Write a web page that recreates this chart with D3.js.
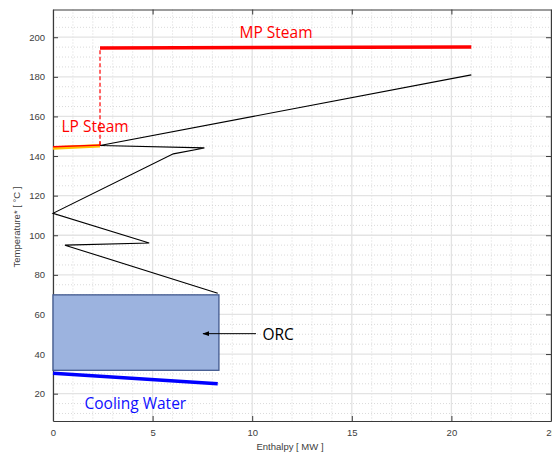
<!DOCTYPE html>
<html><head><meta charset="utf-8">
<script src="https://cdn.jsdelivr.net/npm/d3@7"></script>
<style>body{margin:0;background:#fff}svg{display:block}</style>
</head><body>
<svg id="c" width="552" height="455"></svg>
<script>
const xTicks = [0, 5, 10, 15, 20, 25];
const yTicks = [20, 40, 60, 80, 100, 120, 140, 160, 180, 200];
const compositeH = [21.0, 2.36, 7.6, 6.04, 0, 4.83, 0.6, 8.27];
const compositeT = [181, 145.3, 144.1, 141.1, 111.1, 96.1, 95.0, 70.7];
const mpSteamH = [2.36, 21.0];
const mpSteamT = [194.6, 195.1];
const lpSteamH = [0, 2.36];
const lpSteamRedT = [144.7, 145.5];
const lpSteamOrangeT = [144.0, 145.2];
const coolingH = [0, 8.27];
const coolingT = [30.3, 25.0];
const orcH = [0, 8.33];
const orcT = [31.8, 69.9];

const svg = d3.select("#c");
const L = 53, R = 551, T = 9.5, B = 421;
const x = d3.scaleLinear().domain([0, 25]).range([L, R]);
const y = d3.scaleLinear().domain([6.2, 214]).range([B, T]);

// grid
const g = svg.append("g");
d3.range(0, 25.01, 1).forEach(v => { if (v % 5) g.append("line").attr("x1", x(v)).attr("x2", x(v)).attr("y1", T).attr("y2", B).attr("stroke", "#d0d0d0").attr("stroke-width", 0.8).attr("stroke-dasharray", "1,2"); });
d3.range(10, 214, 5).forEach(v => { if (v % 20) g.append("line").attr("y1", y(v)).attr("y2", y(v)).attr("x1", L).attr("x2", R).attr("stroke", "#d0d0d0").attr("stroke-width", 0.8).attr("stroke-dasharray", "1,2"); });
xTicks.forEach(v => g.append("line").attr("x1", x(v)).attr("x2", x(v)).attr("y1", T).attr("y2", B).attr("stroke", "#e3e3e3").attr("stroke-width", 1.3));
yTicks.forEach(v => g.append("line").attr("y1", y(v)).attr("y2", y(v)).attr("x1", L).attr("x2", R).attr("stroke", "#e3e3e3").attr("stroke-width", 1.3));

// axes
const axB = svg.append("g").attr("transform", `translate(0,${B})`).call(d3.axisBottom(x).tickValues(xTicks).tickSizeInner(-5).tickSizeOuter(0).tickPadding(8));
const axL = svg.append("g").attr("transform", `translate(${L},0)`).call(d3.axisLeft(y).tickValues(yTicks).tickSizeInner(-5).tickSizeOuter(0).tickPadding(8));
const axT = svg.append("g").attr("transform", `translate(0,${T})`).call(d3.axisTop(x).tickValues(xTicks).tickSizeInner(-5).tickSizeOuter(0).tickFormat(""));
const axR = svg.append("g").attr("transform", `translate(${R},0)`).call(d3.axisRight(y).tickValues(yTicks).tickSizeInner(-5).tickSizeOuter(0).tickFormat(""));
[axB, axL, axT, axR].forEach(a => {
  a.select(".domain").attr("stroke", "#3a3a3a").attr("stroke-width", 1.2);
  a.selectAll(".tick line").attr("stroke", "#3a3a3a");
  a.selectAll("text").attr("font-family", "Liberation Sans, Arial, sans-serif").attr("font-size", 9.5).attr("fill", "#404040");
});

// ORC rectangle
svg.append("rect").attr("x", x(orcH[0])).attr("y", y(orcT[1])).attr("width", x(orcH[1]) - x(orcH[0])).attr("height", y(orcT[0]) - y(orcT[1]))
  .attr("fill", "#9cb3df").attr("stroke", "#41598f").attr("stroke-width", 1.3);

const line = d3.line().x(d => x(d[0])).y(d => y(d[1]));
const pts = (H, Tv) => H.map((h, i) => [h, Tv[i]]);

// composite curve
svg.append("path").attr("d", line(pts(compositeH, compositeT))).attr("fill", "none").attr("stroke", "#000").attr("stroke-width", 1.1);

// LP steam
svg.append("path").attr("d", line(pts(lpSteamH, lpSteamOrangeT))).attr("fill", "none").attr("stroke", "#ffc000").attr("stroke-width", 3.5);
svg.append("path").attr("d", line(pts(lpSteamH, lpSteamRedT))).attr("fill", "none").attr("stroke", "#ff0000").attr("stroke-width", 1.3);
// dashed connector
svg.append("line").attr("x1", x(mpSteamH[0])).attr("x2", x(mpSteamH[0])).attr("y1", y(lpSteamRedT[1])).attr("y2", y(mpSteamT[0]))
  .attr("stroke", "#ff0000").attr("stroke-width", 1.2).attr("stroke-dasharray", "4,2.5");
svg.append("line").attr("x1", x(mpSteamH[0])).attr("x2", x(mpSteamH[0])).attr("y1", y(lpSteamRedT[1])).attr("y2", y(lpSteamRedT[1]) - 4)
  .attr("stroke", "#ff0000").attr("stroke-width", 1.2);
// MP steam
svg.append("path").attr("d", line(pts(mpSteamH, mpSteamT))).attr("fill", "none").attr("stroke", "#ff0000").attr("stroke-width", 3.5);
// cooling water
svg.append("path").attr("d", line(pts(coolingH, coolingT))).attr("fill", "none").attr("stroke", "#0000ff").attr("stroke-width", 3.5);

// arrow
svg.append("defs").append("marker").attr("id", "ah").attr("viewBox", "0 0 10 10").attr("refX", 9).attr("refY", 5)
  .attr("markerWidth", 7).attr("markerHeight", 7).attr("orient", "auto")
  .append("path").attr("d", "M0,1.5 L10,5 L0,8.5 Z").attr("fill", "#000");
svg.append("line").attr("x1", 256).attr("x2", 203).attr("y1", y(50.3)).attr("y2", y(50.3)).attr("stroke", "#000").attr("stroke-width", 1).attr("marker-end", "url(#ah)");

// labels
const lab = (t, px, py, col, anchor) => svg.append("text").attr("x", px).attr("y", py).attr("fill", col)
  .attr("font-family", "Open Sans, Noto Sans, sans-serif").attr("font-size", 15.5).attr("text-anchor", anchor || "start").text(t);
lab("MP Steam", 276, 37.5, "#ff0000", "middle");
lab("LP Steam", 61.5, 131.5, "#ff0000");
lab("ORC", 262.5, 340, "#000");
lab("Cooling Water", 84.5, 408.5, "#1010ff");

svg.append("text").attr("x", 290).attr("y", 450).attr("text-anchor", "middle")
  .attr("font-family", "Liberation Sans, Arial, sans-serif").attr("font-size", 9.5).attr("fill", "#404040").text("Enthalpy [ MW ]");
svg.append("text").attr("transform", "translate(20,227) rotate(-90)").attr("text-anchor", "middle")
  .attr("font-family", "Liberation Sans, Arial, sans-serif").attr("font-size", 9.5).attr("fill", "#404040").text("Temperature* [ °C ]");
</script>
</body></html>
